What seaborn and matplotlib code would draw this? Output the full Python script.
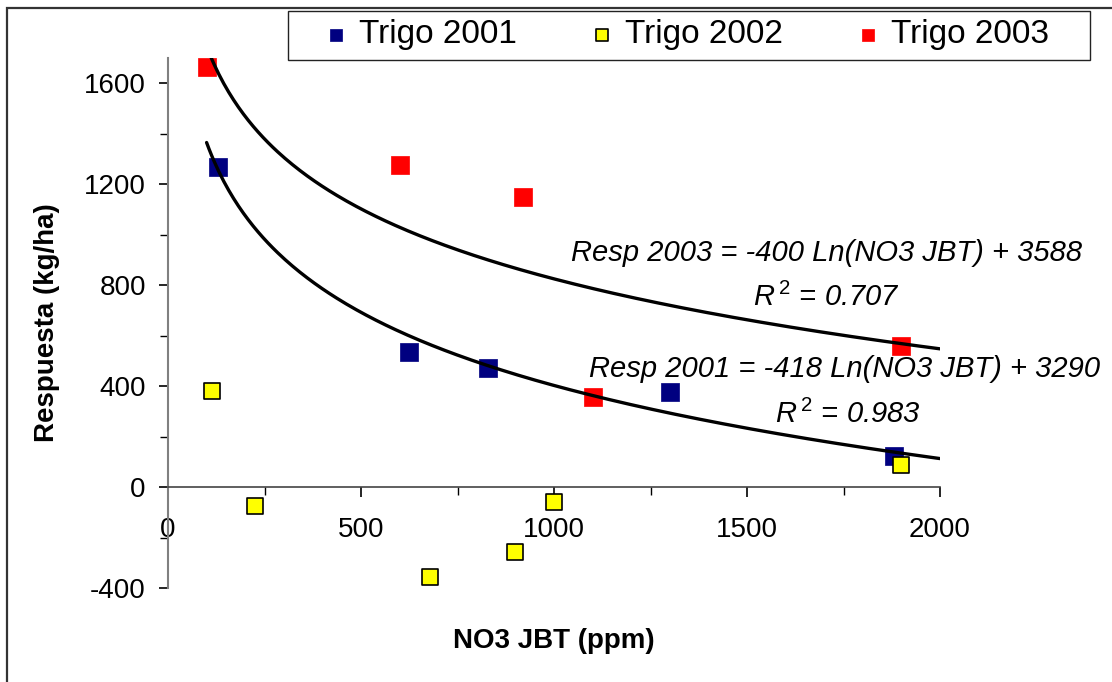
import numpy as np
import pandas as pd
import matplotlib
matplotlib.use('Agg')
import matplotlib.pyplot as plt
from matplotlib.patches import Rectangle
from matplotlib.ticker import MultipleLocator
import seaborn as sns

# valores
no3_2001 = [130, 625, 830, 1300, 1880]
resp_2001 = [1270, 537, 473, 375, 123]
no3_2002 = [115, 225, 680, 900, 1000, 1900]
resp_2002 = [382, -75, -355, -257, -58, 87]
no3_2003 = [100, 600, 920, 1100, 1900]
resp_2003 = [1665, 1275, 1150, 355, 560]

series = ['Trigo 2001', 'Trigo 2002', 'Trigo 2003']
colores = ['#000080', '#FFFF00', '#FF0000']

# lineas de tendencia logaritmicas tal como aparecen en el grafico
fit_2001 = (-418, 3290, 0.983)
fit_2003 = (-400, 3588, 0.707)
fit_desde, fit_hasta = 100, 2000

sns.set_theme(style='white')
plt.rcParams['font.family'] = ['Liberation Sans', 'DejaVu Sans']
plt.rcParams['mathtext.fontset'] = 'custom'
plt.rcParams['mathtext.it'] = 'Liberation Sans:italic'
plt.rcParams['mathtext.rm'] = 'Liberation Sans'
plt.rcParams['axes.unicode_minus'] = False
plt.rcParams['text.color'] = 'black'
plt.rcParams['axes.labelcolor'] = 'black'

df = pd.concat([
    pd.DataFrame({'no3': no3_2001, 'resp': resp_2001, 'serie': series[0]}),
    pd.DataFrame({'no3': no3_2002, 'resp': resp_2002, 'serie': series[1]}),
    pd.DataFrame({'no3': no3_2003, 'resp': resp_2003, 'serie': series[2]}),
])

W, H = 1112, 682
fig = plt.figure(figsize=(W / 100, H / 100), dpi=100)
ax = fig.add_axes([168 / W, 94 / H, 772 / W, 530 / H])

for nombre, col in zip(series, colores):
    sub = df[df['serie'] == nombre]
    if nombre == 'Trigo 2002':
        sns.scatterplot(data=sub, x='no3', y='resp', marker='s', s=135, color=col,
                        edgecolor='black', linewidth=1.2, ax=ax, label=nombre, zorder=2)
    else:
        sns.scatterplot(data=sub, x='no3', y='resp', marker='s', s=150, color=col,
                        edgecolor=col, linewidth=0.5, ax=ax, label=nombre, zorder=2)

xs = np.linspace(fit_desde, fit_hasta, 300)
for a, b, r2 in (fit_2001, fit_2003):
    sns.lineplot(x=xs, y=a * np.log(xs) + b, color='black', linewidth=2.4, ax=ax, zorder=3)

handles, labels = ax.get_legend_handles_labels()
if ax.get_legend() is not None:
    ax.get_legend().remove()

ax.set_xlim(0, 2000)
ax.set_ylim(-400, 1700)
ax.xaxis.set_major_locator(MultipleLocator(500))
ax.xaxis.set_minor_locator(MultipleLocator(250))
ax.yaxis.set_major_locator(MultipleLocator(400))
ax.yaxis.set_minor_locator(MultipleLocator(200))

ax.spines['top'].set_visible(False)
ax.spines['right'].set_visible(False)
ax.spines['bottom'].set_position(('data', 0))
ax.spines['bottom'].set_color('#444444')
ax.spines['bottom'].set_linewidth(1.2)
ax.spines['left'].set_color('#808080')
ax.spines['left'].set_linewidth(1.5)

ax.tick_params(axis='both', which='both', bottom=True, left=True, direction='out',
               color='black', labelcolor='black')
ax.tick_params(axis='x', which='major', length=7.5, width=1.2, pad=14, labelsize=20)
ax.tick_params(axis='x', which='minor', length=5.5, width=1.0)
ax.tick_params(axis='y', which='major', length=6.5, width=1.2, pad=9.5, labelsize=20)
ax.tick_params(axis='y', which='minor', length=6, width=1.0)

ax.set_xlabel('NO3 JBT (ppm)', fontsize=20, fontweight='bold')
ax.xaxis.set_label_coords(0.5, (588 - 641) / 530)
ax.xaxis.label.set_va('center')
ax.set_ylabel('Respuesta (kg/ha)', fontsize=20, fontweight='bold')
ax.yaxis.set_label_coords(-(168 - 47) / 772, 0.5)
ax.yaxis.label.set_va('center')

# ecuaciones de las tendencias
a, b, r2 = fit_2003
ax.text(1705, 929, f'Resp 2003 = {a} Ln(NO3 JBT) + {b}', ha='center', va='center',
        fontsize=21, style='italic', clip_on=False)
ax.text(1705, 750, f'$R^{{\\,2}}$ = {r2:.3f}', ha='center', va='center',
        fontsize=21, style='italic', clip_on=False)
a, b, r2 = fit_2001
ax.text(1754, 468, f'Resp 2001 = {a} Ln(NO3 JBT) + {b}', ha='center', va='center',
        fontsize=21, style='italic', clip_on=False)
ax.text(1762, 286, f'$R^{{\\,2}}$ = {r2:.3f}', ha='center', va='center',
        fontsize=21, style='italic', clip_on=False)

# marco exterior y caja de la leyenda
fig.add_artist(Rectangle((7 / W, -0.05), 1.0, (H - 8) / H + 0.05, transform=fig.transFigure,
                         fill=False, ec='#333333', lw=1.6))
fig.add_artist(Rectangle((288 / W, (H - 60) / H), 802 / W, 49 / H, transform=fig.transFigure,
                         fc='white', ec='#222222', lw=1.0))
fig.legend(handles, labels, ncol=3, loc='center left', bbox_to_anchor=(324 / W, (H - 35) / H),
           frameon=False, fontsize=24, markerscale=0.7, handlelength=0.7,
           handletextpad=0.35, columnspacing=2.2, borderpad=0, borderaxespad=0)

fig.savefig('out.png', dpi=100)
